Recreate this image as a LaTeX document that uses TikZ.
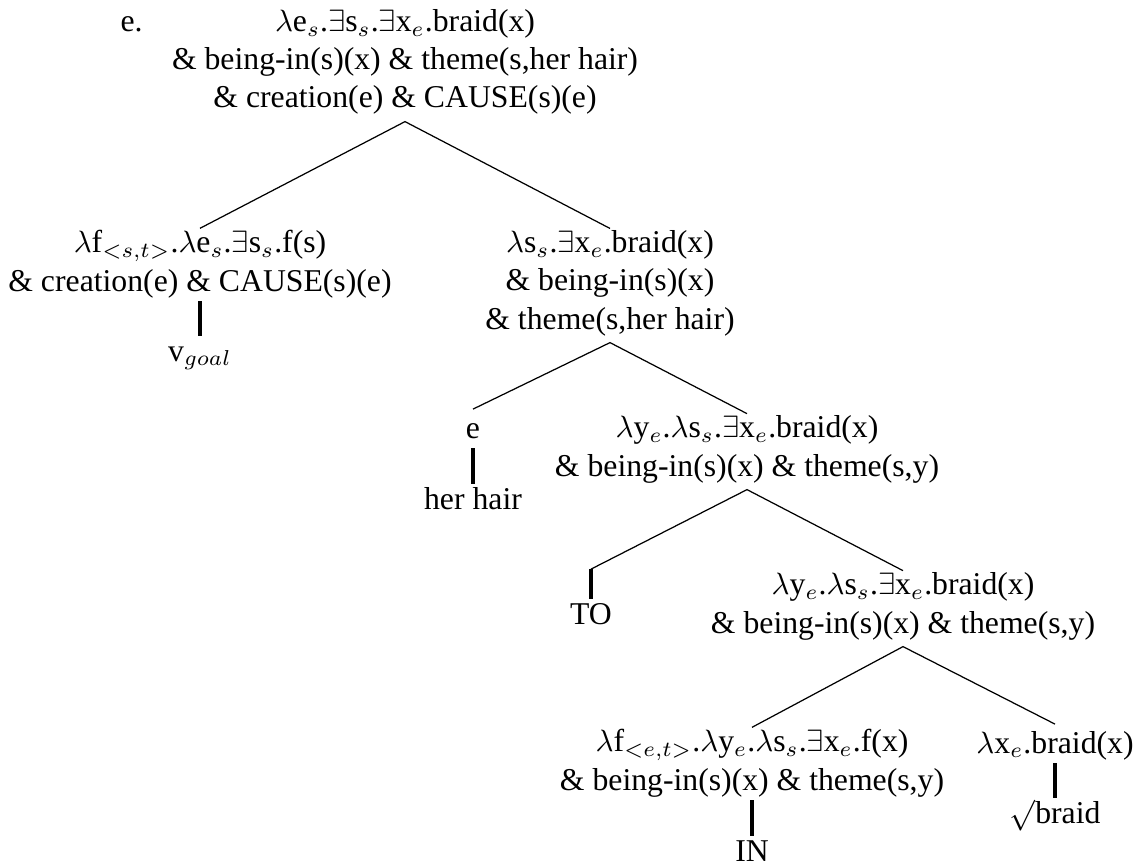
\documentclass[tikz,border=0pt]{standalone}
\usepackage{fontspec}
\setmainfont{Liberation Serif}
\usepackage{tikz}
\usetikzlibrary{calc}
\tikzset{
  sem/.style={align=center, inner xsep=0pt, inner ysep=0.5pt,
    font=\fontsize{10.3}{12.4}\selectfont,
    execute at begin node=\strut, execute at end node=\strut},
  branch/.style={line width=0.4pt},
  stub/.style={line width=1.1pt, shorten <=-1.1pt, shorten >=-1.1pt}
}
\begin{document}
\begin{tikzpicture}[x=0.3247pt, y=-0.3247pt]
            \useasboundingbox (0,0) rectangle (1140,865);
                % nodes sit on the baseline of their last line
                \node[sem, anchor=base west] (ex) at (120,32) {e.};
                \node[sem, anchor=base] (root) at (405,108) {$\lambda$e$_s$.$\exists$s$_s$.$\exists$x$_e$.braid(x)\\ \& being-in(s)(x) \& theme(s,her hair)\\ \& creation(e) \& CAUSE(s)(e)};
                \node[sem, anchor=base] (cause) at (200,291) {$\lambda$f$_{<s,t>}$.$\lambda$e$_s$.$\exists$s$_s$.f(s)\\ \& creation(e) \& CAUSE(s)(e)};
                \node[sem, anchor=base] (vgoal) at (200,361) {v$_{goal}$};
                \node[sem, anchor=base] (state) at (610,329) {$\lambda$s$_s$.$\exists$x$_e$.braid(x)\\ \& being-in(s)(x)\\ \& theme(s,her hair)};
                \node[sem, anchor=base] (ent) at (473,438) {e};
                \node[sem, anchor=base] (hair) at (473,509) {her hair};
                \node[sem, anchor=base] (pred) at (747,476) {$\lambda$y$_e$.$\lambda$s$_s$.$\exists$x$_e$.braid(x)\\ \& being-in(s)(x) \& theme(s,y)};
                \node[sem, anchor=base] (to) at (591,624) {TO};
                \coordinate (toup) at ($(to.north)+(0,-26)$);
                \node[sem, anchor=base] (predin) at (903,633) {$\lambda$y$_e$.$\lambda$s$_s$.$\exists$x$_e$.braid(x)\\ \& being-in(s)(x) \& theme(s,y)};
                \node[sem, anchor=base] (inf) at (752,790) {$\lambda$f$_{<e,t>}$.$\lambda$y$_e$.$\lambda$s$_s$.$\exists$x$_e$.f(x)\\ \& being-in(s)(x) \& theme(s,y)};
                \node[sem, anchor=base] (in) at (752,861) {IN};
                \node[sem, anchor=base] (braidx) at (1055,753) {$\lambda$x$_e$.braid(x)};
                \node[sem, anchor=base] (braid) at (1055,823) {$\surd$braid};
                % branches
                \draw[branch] (cause.north) -- (root.south) -- (state.north);
                \draw[stub] (cause.south) -- (vgoal.north);
                \draw[branch] (ent.north) -- (state.south) -- (pred.north);
                \draw[stub] (ent.south) -- (hair.north);
                \draw[branch] (toup) -- (pred.south) -- (predin.north);
                \draw[stub, shorten <=0pt] (toup) -- (to.north);
                \draw[branch] (inf.north) -- (predin.south) -- (braidx.north);
                \draw[stub] (inf.south) -- (in.north);
                \draw[stub] (braidx.south) -- (braid.north);
            \end{tikzpicture}
\end{document}
